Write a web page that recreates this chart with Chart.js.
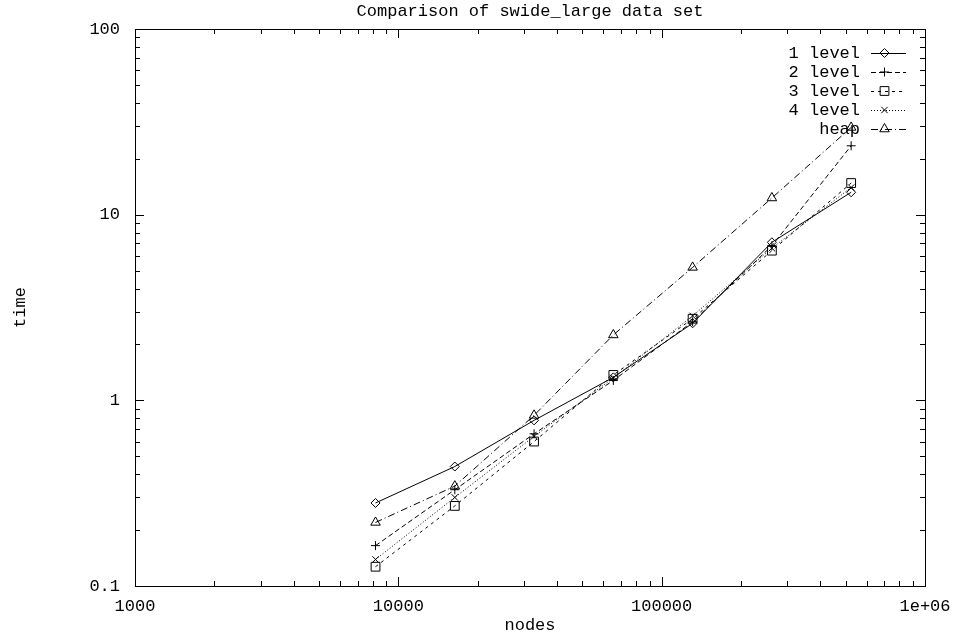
<!DOCTYPE html>
<html>
<head>
<meta charset="utf-8">
<script src="https://cdn.jsdelivr.net/npm/chart.js@4/dist/chart.umd.min.js"></script>
<style>
  html, body { margin: 0; padding: 0; background: #fff; }
  #wrap { width: 957px; height: 638px; }
</style>
</head>
<body>
<div id="wrap"><canvas id="c" width="957" height="638"></canvas></div>
<script>
// Problem sizes (number of nodes) and measured run times per method
const nodes  = [8192, 16384, 32768, 65536, 131072, 262144, 524288];
const level1 = [0.28, 0.44, 0.78, 1.33, 2.60, 7.10, 13.2];
const level2 = [0.165, 0.33, 0.66, 1.28, 2.65, 6.80, 23.5];
const level3 = [0.127, 0.27, 0.60, 1.37, 2.75, 6.40, 14.8];
const level4 = [0.139, 0.30, 0.64, 1.32, 2.85, 6.60, 14.0];
const heap   = [0.22, 0.345, 0.83, 2.25, 5.20, 12.3, 29.5];

const seriesNames = ['1 level', '2 level', '3 level', '4 level', 'heap'];
const xTickValues = [1000, 10000, 100000, 1000000];
const xTickLabels = ['1000', '10000', '100000', '1e+06'];
const yTickValues = [0.1, 1, 10, 100];
const yTickLabels = ['0.1', '1', '10', '100'];

const FONT = "'Liberation Mono', 'DejaVu Sans Mono', monospace";
const INK = '#000';
const NONE = 'rgba(0,0,0,0)';

const styles = [
  { dash: [],           point: 'rectRot',  r: 4.5 },
  { dash: [5, 3],       point: 'cross',    r: 4.5 },
  { dash: [3, 4],       point: 'rect',     r: 6.2 },
  { dash: [1, 2],       point: 'crossRot', r: 4.5 },
  { dash: [7, 3, 1, 3], point: 'triangle', r: 5.5 }
];

const seriesValues = [level1, level2, level3, level4, heap];

const datasets = seriesValues.map((vals, i) => ({
  label: seriesNames[i],
  data: nodes.map((n, k) => ({ x: n, y: vals[k] })),
  borderColor: INK,
  borderWidth: 1,
  borderDash: styles[i].dash,
  pointStyle: styles[i].point,
  pointRadius: styles[i].r,
  pointBorderColor: INK,
  pointBorderWidth: 1,
  pointBackgroundColor: NONE,
  fill: false,
  tension: 0
}));

// Frame, inward tick marks on all four sides (log minor ticks 2..9)
const framePlugin = {
  id: 'frame',
  afterDatasetsDraw(chart) {
    const { ctx, chartArea: a, scales: { x, y } } = chart;
    ctx.save();
    ctx.strokeStyle = INK;
    ctx.lineWidth = 1;
    ctx.setLineDash([]);
    ctx.beginPath();
    const major = 9, minor = 5;
    for (let e = 3; e <= 6; e++) {
      for (let m = 1; m <= 9; m++) {
        const v = m * Math.pow(10, e);
        if (v > 1e6) break;
        const px = Math.round(x.getPixelForValue(v)) + 0.5;
        const len = m === 1 ? major : minor;
        ctx.moveTo(px, a.bottom); ctx.lineTo(px, a.bottom - len);
        ctx.moveTo(px, a.top);    ctx.lineTo(px, a.top + len);
      }
    }
    for (let e = -1; e <= 2; e++) {
      for (let m = 1; m <= 9; m++) {
        const v = m * Math.pow(10, e);
        if (v > 100.0001) break;
        const py = Math.round(y.getPixelForValue(v)) + 0.5;
        const len = m === 1 ? major : minor;
        ctx.moveTo(a.left, py);  ctx.lineTo(a.left + len, py);
        ctx.moveTo(a.right, py); ctx.lineTo(a.right - len, py);
      }
    }
    ctx.stroke();
    ctx.strokeRect(Math.round(a.left) + 0.5, Math.round(a.top) + 0.5,
                   Math.round(a.right - a.left), Math.round(a.bottom - a.top));
    ctx.restore();
  }
};

// Key in the upper right: right-aligned names, then a line sample with its marker
const keyPlugin = {
  id: 'key',
  afterDatasetsDraw(chart) {
    const { ctx } = chart;
    const textRight = 860, lineL = 871, lineR = 906, rowTop = 53, rowStep = 19;
    ctx.save();
    ctx.font = '17px ' + FONT;
    ctx.textAlign = 'right';
    ctx.textBaseline = 'middle';
    chart.data.datasets.forEach((ds, i) => {
      const yy = rowTop + i * rowStep;
      ctx.fillStyle = INK;
      ctx.fillText(ds.label, textRight, yy);
      ctx.strokeStyle = INK;
      ctx.lineWidth = 1;
      ctx.setLineDash(ds.borderDash);
      ctx.beginPath();
      ctx.moveTo(lineL, Math.round(yy) + 0.5);
      ctx.lineTo(lineR, Math.round(yy) + 0.5);
      ctx.stroke();
      ctx.setLineDash([]);
      ctx.fillStyle = NONE;
      Chart.helpers.drawPoint(ctx, {
        pointStyle: ds.pointStyle, radius: ds.pointRadius, borderWidth: 1, rotation: 0
      }, (lineL + lineR) / 2 - 4, yy);
    });
    ctx.restore();
  }
};

new Chart(document.getElementById('c'), {
  type: 'line',
  data: { datasets },
  plugins: [framePlugin, keyPlugin],
  options: {
    responsive: false,
    animation: false,
    devicePixelRatio: 1,
    layout: { padding: { left: 0, right: 32, top: 0, bottom: 0 } },
    plugins: {
      legend: { display: false },
      tooltip: { enabled: false },
      title: {
        display: true,
        text: 'Comparison of swide_large data set',
        fullSize: false,
        color: INK,
        font: { family: FONT, size: 17, weight: 'normal', lineHeight: 1.2 },
        padding: { top: 1, bottom: 7.6 }
      }
    },
    scales: {
      x: {
        type: 'logarithmic',
        min: 1000,
        max: 1000000,
        afterBuildTicks(scale) { scale.ticks = xTickValues.map(v => ({ value: v, major: true })); },
        afterFit(scale) { scale.height = 52; scale.paddingRight = 0; scale.paddingLeft = 0; },
        grid: { display: false, drawTicks: false },
        border: { display: false },
        ticks: {
          autoSkip: false,
          maxRotation: 0,
          padding: 10,
          color: INK,
          font: { family: FONT, size: 17 },
          callback(v) { const k = xTickValues.indexOf(v); return k >= 0 ? xTickLabels[k] : ''; }
        },
        title: {
          display: true,
          text: 'nodes',
          color: INK,
          font: { family: FONT, size: 17, lineHeight: 1.2 },
          padding: { top: 0, bottom: 2 }
        }
      },
      y: {
        type: 'logarithmic',
        min: 0.1,
        max: 100,
        afterBuildTicks(scale) { scale.ticks = yTickValues.map(v => ({ value: v, major: true })); },
        afterFit(scale) { scale.width = 135; },
        grid: { display: false, drawTicks: false },
        border: { display: false },
        ticks: {
          autoSkip: false,
          padding: 15,
          color: INK,
          font: { family: FONT, size: 17 },
          callback(v) { const k = yTickValues.findIndex(t => Math.abs(t - v) < 1e-9); return k >= 0 ? yTickLabels[k] : ''; }
        },
        title: {
          display: true,
          text: 'time',
          color: INK,
          font: { family: FONT, size: 17, lineHeight: 1.2 },
          padding: { top: 10, bottom: 0 }
        }
      }
    }
  }
});
</script>
</body>
</html>
